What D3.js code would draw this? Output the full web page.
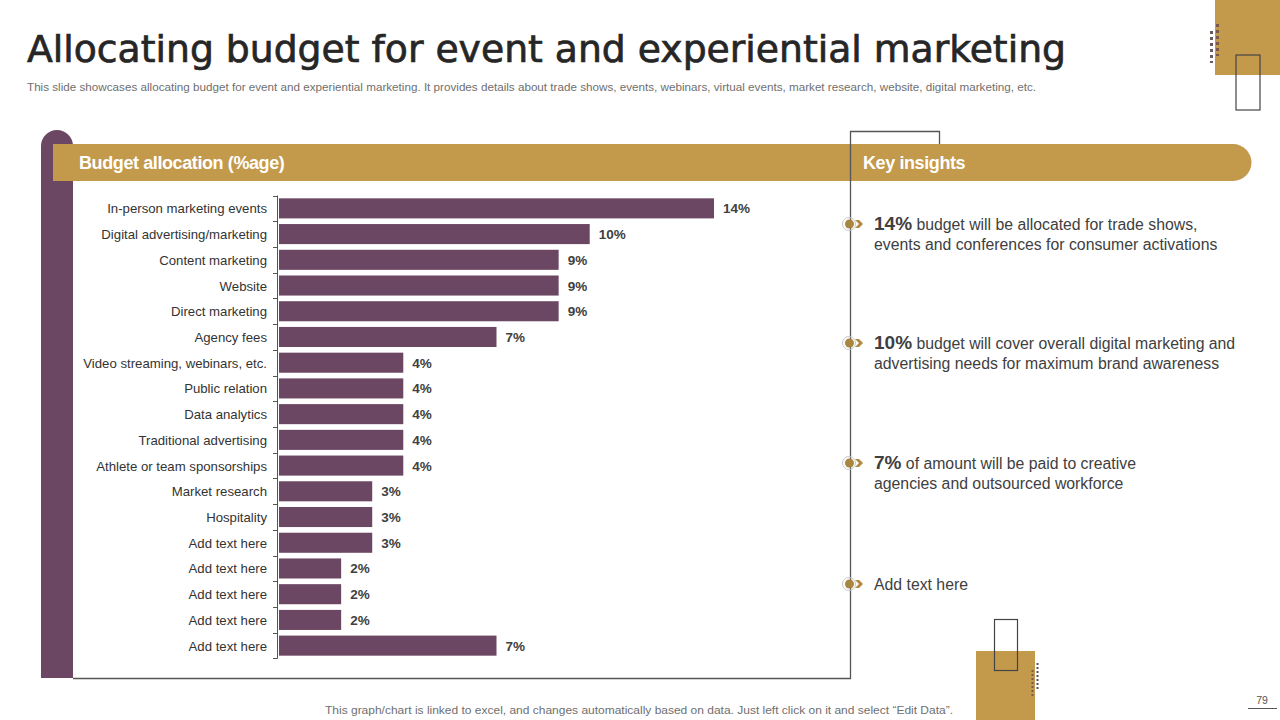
<!DOCTYPE html>
<html>
<head>
<meta charset="utf-8">
<script src="https://cdn.jsdelivr.net/npm/d3@7"></script>
<style>
  body { margin: 0; background: #fff; }
  svg { display: block; font-family: "Liberation Sans", Arial, sans-serif; }
</style>
</head>
<body>
<div id="chart"></div>
<script>
// trailing spaces keep the repeated "Add text here" rows distinct in the band scale
var categories = ["In-person marketing events", "Digital advertising/marketing", "Content marketing",
    "Website", "Direct marketing", "Agency fees", "Video streaming, webinars, etc.", "Public relation",
    "Data analytics", "Traditional advertising", "Athlete or team sponsorships", "Market research",
    "Hospitality", "Add text here", "Add text here ", "Add text here  ", "Add text here   ",
    "Add text here    "];
var values = [14, 10, 9, 9, 9, 7, 4, 4, 4, 4, 4, 3, 3, 3, 2, 2, 2, 7];

var insightNums = ["14%", "10%", "7%", ""];
var insightText = [
    ["budget will be allocated for trade shows,", "events and conferences for consumer activations"],
    ["budget will cover overall digital marketing and", "advertising needs for maximum brand awareness"],
    ["of amount  will be paid to creative", "agencies and outsourced workforce"],
    ["Add text here"]
];

var purple = "#6b4763", gold = "#c3994c";

var svg = d3.select("#chart").append("svg")
    .attr("width", 1280)
    .attr("height", 720);

// title
svg.append("text")
    .attr("x", 27).attr("y", 62)
    .attr("font-family", "DejaVu Sans")
    .attr("font-size", 38)
    .attr("fill", "#262626")
    .attr("stroke", "#262626").attr("stroke-width", 0.7)
    .attr("textLength", 1039)
    .attr("lengthAdjust", "spacingAndGlyphs")
    .text("Allocating budget for event and experiential marketing");

svg.append("text")
    .attr("x", 27).attr("y", 91)
    .attr("font-size", 11)
    .attr("fill", "#6f6f6f")
    .attr("textLength", 1009)
    .attr("lengthAdjust", "spacingAndGlyphs")
    .text("This slide showcases allocating budget for event and experiential marketing. It provides details about trade shows, events, webinars, virtual events, market research, website, digital marketing, etc.");

// top-right decoration
svg.append("rect").attr("x", 1215).attr("y", 0).attr("width", 65).attr("height", 75).attr("fill", gold);
svg.append("rect").attr("x", 1236).attr("y", 55).attr("width", 24).attr("height", 55)
    .attr("fill", "none").attr("stroke", "#444").attr("stroke-width", 1.2);
svg.append("line").attr("x1", 1211.5).attr("x2", 1211.5).attr("y1", 31).attr("y2", 63)
    .attr("stroke", "#6b5a5a").attr("stroke-width", 3).attr("stroke-dasharray", "3,3");
svg.append("line").attr("x1", 1217.5).attr("x2", 1217.5).attr("y1", 24).attr("y2", 56)
    .attr("stroke", "#7a5a50").attr("stroke-width", 3).attr("stroke-dasharray", "3,3");

// bottom decoration
svg.append("rect").attr("x", 976).attr("y", 651).attr("width", 59).attr("height", 69).attr("fill", gold);
svg.append("rect").attr("x", 994.5).attr("y", 619.5).attr("width", 23).attr("height", 51)
    .attr("fill", "none").attr("stroke", "#444").attr("stroke-width", 1.2);
svg.append("line").attr("x1", 1037.5).attr("x2", 1037.5).attr("y1", 663).attr("y2", 691)
    .attr("stroke", "#5a5060").attr("stroke-width", 2).attr("stroke-dasharray", "2,2");
svg.append("line").attr("x1", 1032.5).attr("x2", 1032.5).attr("y1", 670).attr("y2", 698)
    .attr("stroke", "#7a5a50").attr("stroke-width", 2).attr("stroke-dasharray", "2,2");

// left purple pillar
svg.append("path")
    .attr("d", "M41,678 L41,146 A16,16 0 0 1 73,146 L73,678 Z")
    .attr("fill", purple);

// gold header band
svg.append("path")
    .attr("d", "M53,144 L1233,144 A18.5,18.5 0 0 1 1233,181 L53,181 Z")
    .attr("fill", gold);

svg.append("text").attr("x", 79).attr("y", 169)
    .attr("font-size", 18).attr("font-weight", "bold").attr("fill", "#fff")
    .attr("letter-spacing", -0.4)
    .text("Budget allocation (%age)");
svg.append("text").attr("x", 863).attr("y", 169)
    .attr("font-size", 18).attr("font-weight", "bold").attr("fill", "#fff")
    .attr("letter-spacing", -0.4)
    .text("Key insights");

// frame lines
svg.append("path")
    .attr("d", "M73,678.5 L850.5,678.5 L850.5,131.5 L939.5,131.5 L939.5,144")
    .attr("fill", "none").attr("stroke", "#555").attr("stroke-width", 1.3);

// bar chart
var x = d3.scaleLinear().domain([0, 14]).range([279, 714]);
var y = d3.scaleBand().domain(categories).range([195.5, 658.5]).paddingInner(0.22).paddingOuter(0.11);

var g = svg.append("g");
g.selectAll("rect.bar").data(values).enter().append("rect")
    .attr("class", "bar")
    .attr("x", x(0))
    .attr("y", function(d, i) { return y(categories[i]); })
    .attr("width", function(d) { return x(d) - x(0); })
    .attr("height", y.bandwidth())
    .attr("fill", purple);

g.selectAll("text.val").data(values).enter().append("text")
    .attr("class", "val")
    .attr("x", function(d) { return x(d) + 9; })
    .attr("y", function(d, i) { return y(categories[i]) + y.bandwidth() / 2 + 5; })
    .attr("font-size", 13.5).attr("font-weight", "bold").attr("fill", "#404040")
    .text(function(d) { return d + "%"; });

g.selectAll("text.cat").data(categories).enter().append("text")
    .attr("class", "cat")
    .attr("x", 267)
    .attr("y", function(d) { return y(d) + y.bandwidth() / 2 + 5; })
    .attr("text-anchor", "end")
    .attr("font-size", 13.2).attr("fill", "#333")
    .text(function(d) { return d.trim(); });

// category axis with ticks at band edges
var step = y.step();
var edges = categories.map(function(d) { return y(d) - y.paddingInner() * step / 2; });
edges.push(edges[edges.length - 1] + step);
g.append("line").attr("x1", 277.5).attr("x2", 277.5)
    .attr("y1", edges[0]).attr("y2", edges[edges.length - 1])
    .attr("stroke", "#555").attr("stroke-width", 1);
g.selectAll("line.tick").data(edges).enter().append("line")
    .attr("class", "tick")
    .attr("x1", 273).attr("x2", 277.5)
    .attr("y1", function(d) { return Math.round(d) + 0.5; })
    .attr("y2", function(d) { return Math.round(d) + 0.5; })
    .attr("stroke", "#555").attr("stroke-width", 1);

// insights
var insightY = [224, 343, 463, 584];
var ins = svg.selectAll("g.ins").data(insightText).enter().append("g")
    .attr("class", "ins")
    .attr("transform", function(d, i) { return "translate(0," + insightY[i] + ")"; });

ins.append("circle").attr("cx", 849).attr("cy", 0).attr("r", 6.5)
    .attr("fill", "none").attr("stroke", "#c8c8c8").attr("stroke-width", 1);
ins.append("circle").attr("cx", 849.5).attr("cy", 0).attr("r", 4.5).attr("fill", "#a8863f");
ins.append("path").attr("d", "M855,-4 L859,-4 L863,0 L859,4 L855,4 L859,0 Z").attr("fill", "#b08a40");

ins.each(function(lines, i) {
    var sel = d3.select(this);
    var t = sel.append("text").attr("x", 874).attr("y", 6).attr("fill", "#404040");
    if (insightNums[i]) {
        t.append("tspan").attr("font-size", 19).attr("font-weight", "bold").text(insightNums[i]);
        t.append("tspan").attr("font-size", 15.8).text(" " + lines[0]);
    } else {
        t.attr("font-size", 15.8).text(lines[0]);
    }
    lines.slice(1).forEach(function(l, k) {
        sel.append("text").attr("x", 874).attr("y", 26 + k * 20)
            .attr("font-size", 15.8).attr("fill", "#404040").text(l);
    });
});

// footer
svg.append("text").attr("x", 325).attr("y", 714)
    .attr("font-size", 11).attr("fill", "#6f6f6f")
    .attr("textLength", 628).attr("lengthAdjust", "spacingAndGlyphs")
    .text("This graph/chart is linked to excel,  and changes automatically based on data. Just left click on it and select \u201cEdit Data\u201d.");

svg.append("text").attr("x", 1262).attr("y", 704)
    .attr("text-anchor", "middle").attr("font-size", 10.5).attr("fill", "#555").text("79");
svg.append("line").attr("x1", 1248).attr("x2", 1277).attr("y1", 708.5).attr("y2", 708.5)
    .attr("stroke", "#555").attr("stroke-width", 1);
</script>
</body>
</html>
